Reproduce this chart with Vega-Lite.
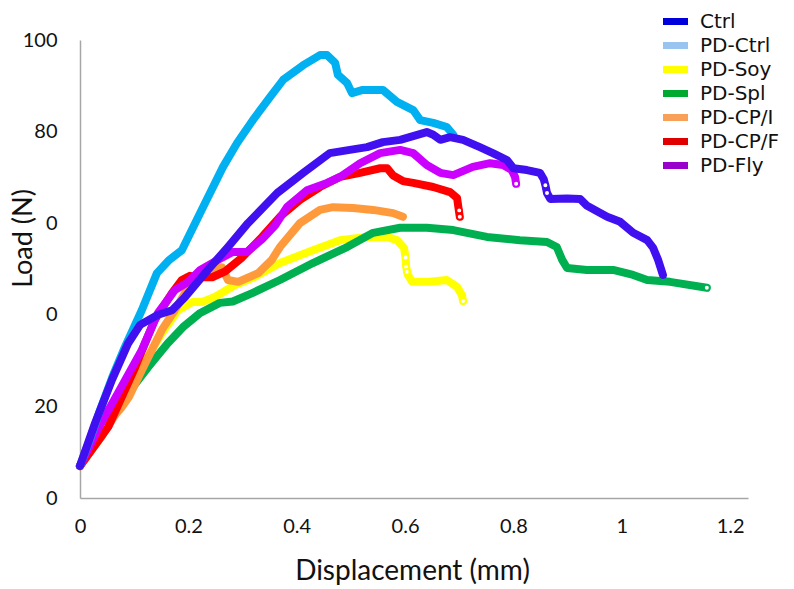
{
  "$schema": "https://vega.github.io/schema/vega-lite/v6.json",
  "width": 668,
  "height": 458,
  "autosize": {"type": "none"},
  "padding": {"left": 80, "top": 40, "right": 46, "bottom": 91},
  "background": "white",
  "config": {"view": {"stroke": null}, "font": "Lato"},
  "datasets": {
    "curves": [
      {"s":"PD-Soy","x":0,"y":7},{"s":"PD-Soy","x":0.04,"y":14.5},{"s":"PD-Soy","x":0.078,"y":22.1},{"s":"PD-Soy","x":0.114,"y":28.6},{"s":"PD-Soy","x":0.151,"y":36},{"s":"PD-Soy","x":0.181,"y":41},{"s":"PD-Soy","x":0.207,"y":42.8},{"s":"PD-Soy","x":0.225,"y":42.8},{"s":"PD-Soy","x":0.249,"y":43.9},{"s":"PD-Soy","x":0.286,"y":46.5},{"s":"PD-Soy","x":0.323,"y":48.3},{"s":"PD-Soy","x":0.369,"y":51.3},{"s":"PD-Soy","x":0.43,"y":54.1},{"s":"PD-Soy","x":0.48,"y":56.3},{"s":"PD-Soy","x":0.53,"y":57},{"s":"PD-Soy","x":0.567,"y":57},{"s":"PD-Soy","x":0.585,"y":56.3},{"s":"PD-Soy","x":0.598,"y":54.6},{"s":"PD-Soy","x":0.601,"y":52.5},{"s":"PD-Soy","x":0.602,"y":50.5},{"s":"PD-Soy","x":0.605,"y":48.8},{"s":"PD-Soy","x":0.613,"y":47.2},{"s":"PD-Soy","x":0.646,"y":47.2},{"s":"PD-Soy","x":0.677,"y":47.6},{"s":"PD-Soy","x":0.696,"y":46.1},{"s":"PD-Soy","x":0.705,"y":44.3},{"s":"PD-Soy","x":0.707,"y":43},
      {"s":"PD-Spl","x":0,"y":7},{"s":"PD-Spl","x":0.04,"y":13.5},{"s":"PD-Spl","x":0.083,"y":22},{"s":"PD-Spl","x":0.126,"y":28.6},{"s":"PD-Spl","x":0.162,"y":33.8},{"s":"PD-Spl","x":0.19,"y":37.3},{"s":"PD-Spl","x":0.222,"y":40.4},{"s":"PD-Spl","x":0.258,"y":42.6},{"s":"PD-Spl","x":0.282,"y":42.9},{"s":"PD-Spl","x":0.319,"y":44.8},{"s":"PD-Spl","x":0.369,"y":47.6},{"s":"PD-Spl","x":0.43,"y":51.3},{"s":"PD-Spl","x":0.493,"y":54.8},{"s":"PD-Spl","x":0.541,"y":57.9},{"s":"PD-Spl","x":0.591,"y":59},{"s":"PD-Spl","x":0.64,"y":59},{"s":"PD-Spl","x":0.689,"y":58.5},{"s":"PD-Spl","x":0.751,"y":57},{"s":"PD-Spl","x":0.812,"y":56.3},{"s":"PD-Spl","x":0.862,"y":55.9},{"s":"PD-Spl","x":0.88,"y":54.8},{"s":"PD-Spl","x":0.89,"y":52},{"s":"PD-Spl","x":0.899,"y":50.2},{"s":"PD-Spl","x":0.936,"y":49.8},{"s":"PD-Spl","x":0.984,"y":49.8},{"s":"PD-Spl","x":1.021,"y":48.7},{"s":"PD-Spl","x":1.047,"y":47.6},{"s":"PD-Spl","x":1.089,"y":47.2},{"s":"PD-Spl","x":1.157,"y":45.9},
      {"s":"PD-CP/I","x":0,"y":7},{"s":"PD-CP/I","x":0.04,"y":13.5},{"s":"PD-CP/I","x":0.066,"y":18.3},{"s":"PD-CP/I","x":0.075,"y":19.5},{"s":"PD-CP/I","x":0.09,"y":22},{"s":"PD-CP/I","x":0.114,"y":27.9},{"s":"PD-CP/I","x":0.151,"y":36.7},{"s":"PD-CP/I","x":0.175,"y":41},{"s":"PD-CP/I","x":0.194,"y":44.8},{"s":"PD-CP/I","x":0.218,"y":48.3},{"s":"PD-CP/I","x":0.249,"y":50.2},{"s":"PD-CP/I","x":0.262,"y":50.4},{"s":"PD-CP/I","x":0.273,"y":47.6},{"s":"PD-CP/I","x":0.292,"y":47.2},{"s":"PD-CP/I","x":0.329,"y":49.1},{"s":"PD-CP/I","x":0.354,"y":52},{"s":"PD-CP/I","x":0.369,"y":54.8},{"s":"PD-CP/I","x":0.406,"y":60},{"s":"PD-CP/I","x":0.443,"y":62.9},{"s":"PD-CP/I","x":0.467,"y":63.5},{"s":"PD-CP/I","x":0.504,"y":63.3},{"s":"PD-CP/I","x":0.541,"y":62.9},{"s":"PD-CP/I","x":0.578,"y":62.2},{"s":"PD-CP/I","x":0.596,"y":61.4},
      {"s":"PD-CP/F","x":0,"y":7},{"s":"PD-CP/F","x":0.052,"y":15.5},{"s":"PD-CP/F","x":0.102,"y":28.6},{"s":"PD-CP/F","x":0.138,"y":38.9},{"s":"PD-CP/F","x":0.17,"y":44.8},{"s":"PD-CP/F","x":0.188,"y":47.6},{"s":"PD-CP/F","x":0.203,"y":48.5},{"s":"PD-CP/F","x":0.225,"y":48.2},{"s":"PD-CP/F","x":0.244,"y":48.2},{"s":"PD-CP/F","x":0.268,"y":49.5},{"s":"PD-CP/F","x":0.299,"y":52.5},{"s":"PD-CP/F","x":0.336,"y":57},{"s":"PD-CP/F","x":0.369,"y":61.4},{"s":"PD-CP/F","x":0.406,"y":65.1},{"s":"PD-CP/F","x":0.443,"y":67.9},{"s":"PD-CP/F","x":0.48,"y":70.1},{"s":"PD-CP/F","x":0.517,"y":71},{"s":"PD-CP/F","x":0.554,"y":72},{"s":"PD-CP/F","x":0.567,"y":72},{"s":"PD-CP/F","x":0.578,"y":70.4},{"s":"PD-CP/F","x":0.596,"y":69.2},{"s":"PD-CP/F","x":0.615,"y":68.8},{"s":"PD-CP/F","x":0.652,"y":67.9},{"s":"PD-CP/F","x":0.683,"y":66.8},{"s":"PD-CP/F","x":0.696,"y":65.5},{"s":"PD-CP/F","x":0.699,"y":63},{"s":"PD-CP/F","x":0.701,"y":61.4},
      {"s":"PD-Fly","x":0,"y":7},{"s":"PD-Fly","x":0.035,"y":15.5},{"s":"PD-Fly","x":0.07,"y":22.9},{"s":"PD-Fly","x":0.114,"y":32.3},{"s":"PD-Fly","x":0.144,"y":40.4},{"s":"PD-Fly","x":0.175,"y":45.4},{"s":"PD-Fly","x":0.2,"y":47.2},{"s":"PD-Fly","x":0.222,"y":49.8},{"s":"PD-Fly","x":0.255,"y":52},{"s":"PD-Fly","x":0.282,"y":53.7},{"s":"PD-Fly","x":0.308,"y":53.7},{"s":"PD-Fly","x":0.336,"y":56.5},{"s":"PD-Fly","x":0.36,"y":59.5},{"s":"PD-Fly","x":0.382,"y":63.5},{"s":"PD-Fly","x":0.419,"y":67.2},{"s":"PD-Fly","x":0.456,"y":68.8},{"s":"PD-Fly","x":0.48,"y":70.1},{"s":"PD-Fly","x":0.517,"y":73.1},{"s":"PD-Fly","x":0.554,"y":75.3},{"s":"PD-Fly","x":0.591,"y":76},{"s":"PD-Fly","x":0.615,"y":75.3},{"s":"PD-Fly","x":0.64,"y":72.7},{"s":"PD-Fly","x":0.665,"y":71},{"s":"PD-Fly","x":0.689,"y":70.5},{"s":"PD-Fly","x":0.725,"y":72.3},{"s":"PD-Fly","x":0.757,"y":73.1},{"s":"PD-Fly","x":0.781,"y":72.7},{"s":"PD-Fly","x":0.797,"y":71.6},{"s":"PD-Fly","x":0.803,"y":70.1},{"s":"PD-Fly","x":0.805,"y":68.6},
      {"s":"PD-Ctrl","x":0,"y":7},{"s":"PD-Ctrl","x":0.018,"y":12.7},{"s":"PD-Ctrl","x":0.037,"y":19.2},{"s":"PD-Ctrl","x":0.06,"y":26.5},{"s":"PD-Ctrl","x":0.083,"y":33},{"s":"PD-Ctrl","x":0.114,"y":41},{"s":"PD-Ctrl","x":0.142,"y":49.1},{"s":"PD-Ctrl","x":0.165,"y":52},{"s":"PD-Ctrl","x":0.188,"y":54.1},{"s":"PD-Ctrl","x":0.2,"y":57},{"s":"PD-Ctrl","x":0.227,"y":63.5},{"s":"PD-Ctrl","x":0.264,"y":72.3},{"s":"PD-Ctrl","x":0.29,"y":77.5},{"s":"PD-Ctrl","x":0.319,"y":82.5},{"s":"PD-Ctrl","x":0.351,"y":87.6},{"s":"PD-Ctrl","x":0.375,"y":91.3},{"s":"PD-Ctrl","x":0.412,"y":94.5},{"s":"PD-Ctrl","x":0.443,"y":96.7},{"s":"PD-Ctrl","x":0.456,"y":96.7},{"s":"PD-Ctrl","x":0.471,"y":95},{"s":"PD-Ctrl","x":0.476,"y":92.4},{"s":"PD-Ctrl","x":0.493,"y":90.6},{"s":"PD-Ctrl","x":0.502,"y":88.4},{"s":"PD-Ctrl","x":0.522,"y":89.1},{"s":"PD-Ctrl","x":0.559,"y":89.1},{"s":"PD-Ctrl","x":0.585,"y":86.5},{"s":"PD-Ctrl","x":0.615,"y":84.7},{"s":"PD-Ctrl","x":0.628,"y":82.5},{"s":"PD-Ctrl","x":0.652,"y":81.9},{"s":"PD-Ctrl","x":0.677,"y":81},{"s":"PD-Ctrl","x":0.689,"y":79.3},
      {"s":"Ctrl","x":0,"y":7},{"s":"Ctrl","x":0.028,"y":16.4},{"s":"Ctrl","x":0.059,"y":25.8},{"s":"Ctrl","x":0.089,"y":33.8},{"s":"Ctrl","x":0.111,"y":37.8},{"s":"Ctrl","x":0.144,"y":40},{"s":"Ctrl","x":0.17,"y":41},{"s":"Ctrl","x":0.194,"y":43.9},{"s":"Ctrl","x":0.236,"y":49.8},{"s":"Ctrl","x":0.273,"y":54.8},{"s":"Ctrl","x":0.31,"y":60},{"s":"Ctrl","x":0.364,"y":66.6},{"s":"Ctrl","x":0.412,"y":71},{"s":"Ctrl","x":0.461,"y":75.3},{"s":"Ctrl","x":0.498,"y":76},{"s":"Ctrl","x":0.53,"y":76.6},{"s":"Ctrl","x":0.559,"y":77.7},{"s":"Ctrl","x":0.591,"y":78.2},{"s":"Ctrl","x":0.64,"y":79.9},{"s":"Ctrl","x":0.652,"y":79.3},{"s":"Ctrl","x":0.665,"y":78.2},{"s":"Ctrl","x":0.683,"y":78.8},{"s":"Ctrl","x":0.707,"y":78.2},{"s":"Ctrl","x":0.738,"y":76.6},{"s":"Ctrl","x":0.762,"y":75.3},{"s":"Ctrl","x":0.788,"y":73.8},{"s":"Ctrl","x":0.8,"y":72},{"s":"Ctrl","x":0.825,"y":71.6},{"s":"Ctrl","x":0.849,"y":71},{"s":"Ctrl","x":0.856,"y":69.6},{"s":"Ctrl","x":0.859,"y":68.3},{"s":"Ctrl","x":0.862,"y":66.6},{"s":"Ctrl","x":0.868,"y":65.3},{"s":"Ctrl","x":0.899,"y":65.4},{"s":"Ctrl","x":0.923,"y":65.3},{"s":"Ctrl","x":0.936,"y":63.8},{"s":"Ctrl","x":0.973,"y":61.4},{"s":"Ctrl","x":0.997,"y":60.3},{"s":"Ctrl","x":1.021,"y":57.9},{"s":"Ctrl","x":1.047,"y":56.3},{"s":"Ctrl","x":1.058,"y":54.6},{"s":"Ctrl","x":1.067,"y":52},{"s":"Ctrl","x":1.076,"y":48.7}
    ],
    "markers": [
      {"s":"Ctrl","x":0.859,"y":68.3},{"s":"Ctrl","x":0.862,"y":66.6},
      {"s":"PD-Fly","x":0.805,"y":68.6},
      {"s":"PD-CP/F","x":0.7,"y":62.8},{"s":"PD-CP/F","x":0.701,"y":61.4},
      {"s":"PD-Soy","x":0.601,"y":52.5},{"s":"PD-Soy","x":0.602,"y":50.5},{"s":"PD-Soy","x":0.603,"y":49.4},{"s":"PD-Soy","x":0.707,"y":43},
      {"s":"PD-Spl","x":1.157,"y":45.9}
    ]
  },
  "layer": [
    {
      "data": {"name": "curves"},
      "mark": {"type": "square", "opacity": 0},
      "encoding": {
        "x": {"field": "x", "type": "quantitative"},
        "y": {"field": "y", "type": "quantitative"},
        "fill": {
          "field": "s", "type": "nominal",
          "scale": {"domain": ["Ctrl","PD-Ctrl","PD-Soy","PD-Spl","PD-CP/I","PD-CP/F","PD-Fly"],
                    "range": ["#0000DD","#99C4F0","#FFFF00","#00AA30","#F8A058","#E00000","#9900CC"]},
          "legend": {
            "orient": "none", "legendX": 583, "legendY": -31, "title": null, "padding": 0,
            "symbolType": "M-1,-0.28H1V0.28H-1Z", "symbolSize": 625, "symbolStrokeWidth": 0, "symbolOpacity": 1,
            "labelFont": "DejaVu Sans", "labelFontSize": 20, "labelColor": "#111111", "labelOffset": 12,
            "rowPadding": 1, "labelLimit": 200
          }
        }
      }
    },
    {
      "data": {"name": "curves"},
      "mark": {"type": "line", "strokeWidth": 8, "strokeCap": "round", "strokeJoin": "round"},
      "encoding": {
        "x": {
          "field": "x", "type": "quantitative",
          "scale": {"domain": [0, 1.233], "nice": false, "zero": false},
          "axis": {
            "values": [0, 0.2, 0.4, 0.6, 0.8, 1, 1.2], "format": "~g",
            "title": "Displacement (mm)", "grid": false, "ticks": false,
            "domainColor": "#A6A6A6", "domainWidth": 1.5,
            "labelFont": "Lato", "labelFontSize": 20, "labelColor": "#111111", "labelPadding": 18,
            "labelFlush": false, "labelOverlap": false,
            "titleFont": "Lato", "titleFontSize": 28, "titleFontWeight": "normal", "titleColor": "#111111",
            "titleX": 332, "titleY": 81, "titleBaseline": "alphabetic", "titleAnchor": "middle", "titleAlign": "center"
          }
        },
        "y": {
          "field": "y", "type": "quantitative",
          "scale": {"domain": [0, 100], "nice": false},
          "axis": {
            "values": [0, 20, 40, 60, 80, 100],
            "labelExpr": "datum.value == 40 || datum.value == 60 ? '0' : datum.label",
            "title": "Load (N)", "grid": false, "ticks": false,
            "domainColor": "#A6A6A6", "domainWidth": 1.5,
            "labelFont": "Lato", "labelFontSize": 20, "labelColor": "#111111", "labelPadding": 23,
            "labelFlush": false, "labelOverlap": false,
            "titleFont": "Lato", "titleFontSize": 27, "titleFontWeight": "normal", "titleColor": "#111111",
            "titleX": -57, "titleY": 198, "titleBaseline": "middle", "titleAlign": "center", "titleAngle": -90
          }
        },
        "stroke": {
          "field": "s", "type": "nominal",
          "scale": {"domain": ["Ctrl","PD-Ctrl","PD-Soy","PD-Spl","PD-CP/I","PD-CP/F","PD-Fly"],
                    "range": ["#4010F0","#00B0F0","#FFFF00","#00B050","#FF9A3C","#FF0000","#CC00FF"]},
          "legend": null
        }
      }
    },
    {
      "data": {"name": "markers"},
      "mark": {"type": "point", "shape": "circle", "filled": false, "size": 30, "strokeWidth": 1.5, "fill": "white", "fillOpacity": 1},
      "encoding": {
        "x": {"field": "x", "type": "quantitative"},
        "y": {"field": "y", "type": "quantitative"},
        "stroke": {"field": "s", "type": "nominal", "legend": null}
      }
    }
  ]
}
